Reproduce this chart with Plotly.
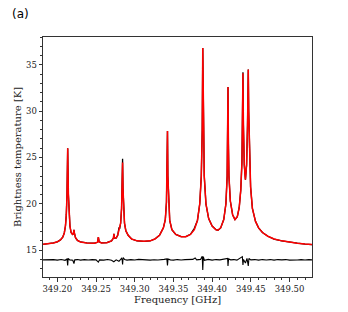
import plotly.graph_objects as go

# fitted model spectrum (red)
model_freq = [
    349.1815, 349.1880, 349.1950, 349.2000, 349.2040, 349.2070, 349.2090, 349.2105,
    349.2116, 349.2125, 349.2130, 349.2134, 349.2138, 349.2143, 349.2152, 349.2163,
    349.2178, 349.2200, 349.2210, 349.2215, 349.2220, 349.2235, 349.2260, 349.2300,
    349.2380, 349.2480, 349.2520, 349.2530, 349.2540, 349.2570, 349.2640, 349.2700,
    349.2725, 349.2731, 349.2737, 349.2760, 349.2780, 349.2792, 349.2797, 349.2805,
    349.2818, 349.2830, 349.2837, 349.2843, 349.2849, 349.2856, 349.2868, 349.2885,
    349.2915, 349.2960, 349.3030, 349.3120, 349.3200, 349.3260, 349.3320, 349.3370,
    349.3395, 349.3410, 349.3418, 349.3423, 349.3428, 349.3437, 349.3452, 349.3480,
    349.3530, 349.3600, 349.3660, 349.3720, 349.3770, 349.3810, 349.3840, 349.3860,
    349.3872, 349.3879, 349.3886, 349.3898, 349.3920, 349.3955, 349.4000, 349.4050,
    349.4075, 349.4110, 349.4150, 349.4178, 349.4194, 349.4200, 349.4205, 349.4210,
    349.4217, 349.4235, 349.4265, 349.4295, 349.4325, 349.4350, 349.4370, 349.4385,
    349.4393, 349.4398, 349.4404, 349.4415, 349.4430, 349.4445, 349.4457, 349.4462,
    349.4467, 349.4472, 349.4482, 349.4497, 349.4520, 349.4560, 349.4600, 349.4650,
    349.4720, 349.4800, 349.4900, 349.5000, 349.5100, 349.5200, 349.5290,
]
model_temp = [
    15.62, 15.68, 15.78, 15.90, 16.10, 16.40, 16.85, 17.60,
    18.80, 21.00, 23.80, 26.00, 23.80, 21.00, 18.80, 17.60,
    16.90, 16.65, 16.90, 17.20, 16.85, 16.35, 16.05, 15.88,
    15.78, 15.75, 15.85, 16.40, 15.90, 15.78, 15.80, 16.00,
    16.30, 16.75, 16.30, 16.30, 16.60, 17.10, 17.35, 17.30,
    17.90, 19.50, 21.50, 24.45, 21.50, 19.20, 17.90, 17.10,
    16.60, 16.20, 16.00, 15.95, 16.00, 16.20, 16.60, 17.40,
    18.30, 20.20, 23.00, 27.85, 23.00, 20.00, 18.20, 17.20,
    16.70, 16.45, 16.45, 16.70, 17.20, 18.20, 20.00, 23.00,
    28.00, 36.80, 28.00, 23.00, 20.00, 18.40, 17.60, 17.20,
    17.15, 17.40, 18.30, 20.00, 23.00, 26.50, 32.60, 26.50,
    23.00, 20.30, 18.80, 18.30, 18.60, 19.60, 21.50, 24.50,
    28.50, 34.10, 28.50, 24.20, 22.60, 24.20, 28.50, 31.00,
    34.50, 30.00, 25.00, 21.80, 19.50, 18.10, 17.40, 16.90,
    16.50, 16.20, 16.00, 15.85, 15.75, 15.65, 15.60,
]

# observed spectrum differs visibly from the model only at a few channels
obs_changes = {349.2843: 24.85, 349.3770: 17.35, 349.4398: 34.2, 349.2797: 17.45}

# residual (observed - model, offset)
resid_freq = [
    349.1815, 349.1860, 349.1900, 349.1950, 349.2000, 349.2050, 349.2100, 349.2125,
    349.2134, 349.2140, 349.2160, 349.2200, 349.2215, 349.2225, 349.2260, 349.2300,
    349.2350, 349.2400, 349.2450, 349.2500, 349.2530, 349.2545, 349.2600, 349.2650,
    349.2700, 349.2730, 349.2760, 349.2796, 349.2830, 349.2838, 349.2843, 349.2850,
    349.2870, 349.2900, 349.2950, 349.3000, 349.3050, 349.3100, 349.3150, 349.3200,
    349.3250, 349.3300, 349.3380, 349.3415, 349.3423, 349.3430, 349.3460, 349.3500,
    349.3550, 349.3600, 349.3650, 349.3700, 349.3750, 349.3780, 349.3800, 349.3850,
    349.3872, 349.3879, 349.3886, 349.3900, 349.3950, 349.4000, 349.4050, 349.4100,
    349.4180, 349.4200, 349.4205, 349.4212, 349.4240, 349.4280, 349.4320, 349.4370,
    349.4390, 349.4398, 349.4405, 349.4430, 349.4450, 349.4467, 349.4475, 349.4500,
    349.4550, 349.4600, 349.4650, 349.4700, 349.4750, 349.4800, 349.4850, 349.4900,
    349.4950, 349.5000, 349.5050, 349.5100, 349.5150, 349.5200, 349.5250, 349.5290,
]
resid_temp = [
    13.95, 13.98, 13.93, 13.97, 13.92, 13.98, 13.90, 14.05,
    13.35, 14.10, 13.95, 13.90, 13.55, 13.95, 13.98, 13.92,
    13.97, 13.93, 13.98, 13.95, 13.70, 13.95, 13.92, 13.98,
    13.90, 13.75, 13.95, 13.80, 14.12, 13.95, 13.45, 14.20,
    13.98, 13.92, 13.97, 13.93, 14.00, 13.95, 13.98, 13.92,
    13.96, 13.94, 14.00, 14.05, 13.35, 14.05, 13.95, 13.92,
    13.98, 13.93, 13.97, 13.95, 14.00, 14.15, 13.95, 14.00,
    14.35, 12.85, 14.30, 13.90, 14.00, 13.92, 13.98, 13.95,
    14.05, 14.10, 13.30, 14.05, 13.95, 13.98, 13.92, 14.20,
    14.30, 13.40, 14.00, 13.60, 14.10, 13.30, 14.10, 13.95,
    13.98, 13.92, 13.98, 13.94, 13.98, 13.92, 13.98, 13.95,
    13.98, 13.92, 13.97, 13.94, 13.98, 13.93, 13.97, 13.95,
]

obs_temp = [obs_changes.get(f, t) for f, t in zip(model_freq, model_temp)]

serif = "DejaVu Serif"
fig = go.Figure()
fig.add_trace(go.Scatter(x=model_freq, y=obs_temp, mode='lines', line=dict(color='black', width=1.3)))
fig.add_trace(go.Scatter(x=model_freq, y=model_temp, mode='lines', line=dict(color='#ff0000', width=1.5)))
fig.add_trace(go.Scatter(x=resid_freq, y=resid_temp, mode='lines', line=dict(color='black', width=1.1)))

axis_common = dict(showgrid=False, zeroline=False, showline=True, linecolor='#333333', linewidth=1,
                   mirror=True, ticks='outside', ticklen=3.5, tickwidth=0.8, tickcolor='#333333',
                   automargin=False, tickfont=dict(family=serif, size=8.5, color='#222222'))
fig.update_xaxes(range=[349.1815, 349.529], tickvals=[349.20, 349.25, 349.30, 349.35, 349.40, 349.45, 349.50],
                 ticktext=['349.20', '349.25', '349.30', '349.35', '349.40', '349.45', '349.50'],
                 minor=dict(dtick=0.01, tick0=349.2, ticks='outside', ticklen=2, tickcolor='#333333'),
                 **axis_common)
fig.update_yaxes(range=[12.1, 38.0], tickvals=[15, 20, 25, 30, 35],
                 minor=dict(dtick=1, tick0=0, ticks='outside', ticklen=2, tickcolor='#333333'),
                 **axis_common)
title_font = dict(family=serif, size=10, color='#222222')
fig.update_layout(width=348, height=312, margin=dict(l=43, r=36, t=37, b=35),
                  plot_bgcolor='white', paper_bgcolor='white', showlegend=False, hovermode=False,
                  annotations=[
                      dict(text='(a)', xref='paper', yref='paper', x=-0.085, y=1.096,
                           xanchor='center', yanchor='middle', showarrow=False,
                           font=dict(family='DejaVu Sans', size=12, color='black')),
                      dict(text='Frequency [GHz]', xref='paper', yref='paper', x=0.5, y=-0.095,
                           xanchor='center', yanchor='middle', showarrow=False, font=title_font),
                      dict(text='Brightness temperature [K]', xref='paper', yref='paper', x=-0.097, y=0.5,
                           xanchor='center', yanchor='middle', textangle=-90, showarrow=False, font=title_font),
                  ])
# page body margin would shift the figure, remove it
fig.write_html("out.html", config={'displayModeBar': False},
               post_script="document.body.style.margin='0';")
